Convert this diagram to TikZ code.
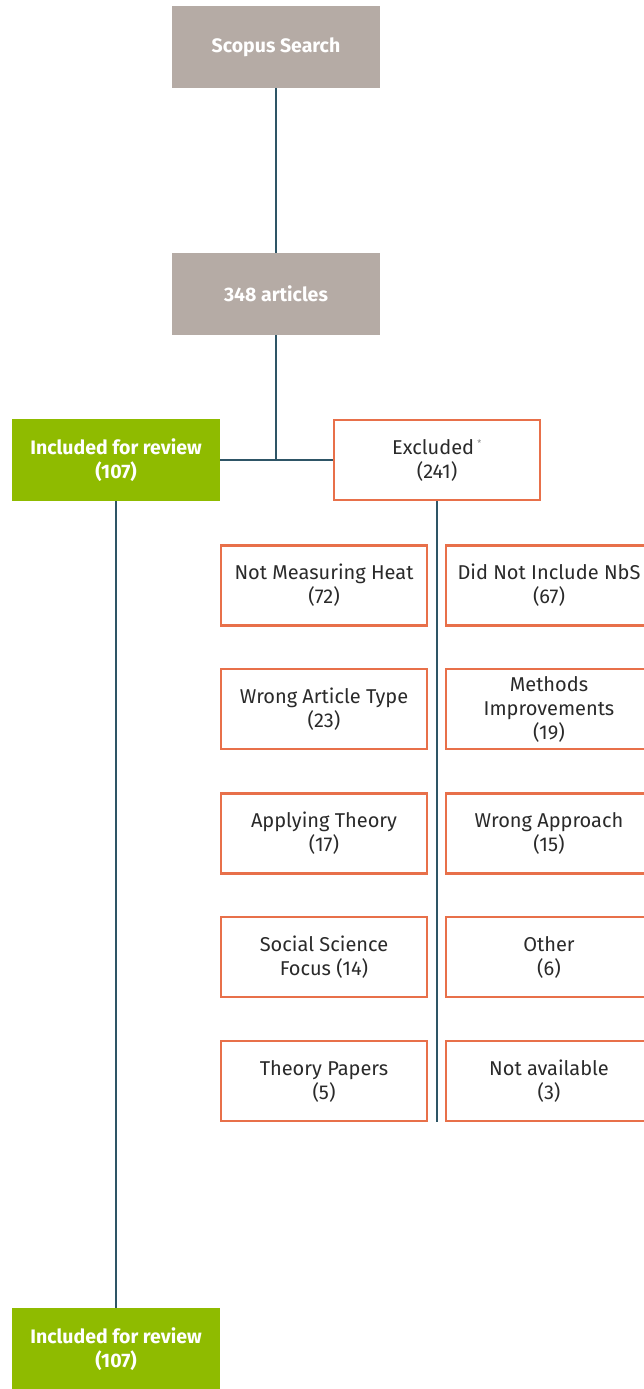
\documentclass[tikz,border=0pt]{standalone}
\usepackage{fontspec}
\setmainfont{Fira Sans}
\usetikzlibrary{calc}
\definecolor{greybox}{HTML}{B5ABA5}
\definecolor{greenbox}{HTML}{8FBB00}
\definecolor{orangeedge}{HTML}{E8704A}
\definecolor{tealline}{HTML}{2E5566}
\definecolor{txt}{HTML}{2A2A2A}

\begin{document}
\begin{tikzpicture}[x=1pt,y=-1pt,
  grey/.style={fill=greybox, text=white, font=\bfseries\fontsize{19.5}{24}\selectfont, minimum width=208pt, minimum height=82pt, align=center, inner sep=0pt},
  incl/.style={fill=greenbox, text=white, font=\bfseries\fontsize{19.5}{24}\selectfont, minimum width=208pt, minimum height=82pt, align=center, inner sep=0pt},
  excl/.style={draw=orangeedge, line width=2.4pt, fill=white, text=txt, font=\fontsize{20}{24}\selectfont, minimum width=206pt, minimum height=80pt, align=center, inner sep=0pt},
  link/.style={draw=tealline, line width=1.4pt}]
\useasboundingbox (0,0) rectangle (644,1389);
\node[grey] (scopus) at (276,47) {Scopus Search};
\node[grey] (articles) at (276,294) {348 articles};
\node[incl] (included) at (116,460) {Included for review\\(107)};
\node[excl] (excluded) at (437,460) {Excluded\,\textsuperscript{\textcolor{gray}{\small *}}\\(241)};
\coordinate (split) at (276,461);
\coordinate (exclend) at (437,1122);
\node[incl] (final) at (116,1349) {Included for review\\(107)};
\node[excl] (heat) at (324,585.5) {Not Measuring Heat\\(72)};
\node[excl] (nbs) at (549,585.5) {Did Not Include NbS\\(67)};
\node[excl] (type) at (324,709) {Wrong Article Type\\(23)};
\node[excl] (methods) at (549,709) {Methods\\Improvements\\(19)};
\node[excl] (theory) at (324,833.5) {Applying Theory\\(17)};
\node[excl] (approach) at (549,833.5) {Wrong Approach\\(15)};
\node[excl] (social) at (324,957) {Social Science\\Focus (14)};
\node[excl] (other) at (549,957) {Other\\(6)};
\node[excl] (papers) at (324,1081) {Theory Papers\\(5)};
\node[excl] (avail) at (549,1081) {Not available\\(3)};
\draw[link] (scopus) -- (articles);
\draw[link] (articles) -- (split);
\draw[link] (included) -- (excluded);
\draw[link] (included) -- (final);
\draw[link] (excluded) -- (exclend);
\end{tikzpicture}
\end{document}
